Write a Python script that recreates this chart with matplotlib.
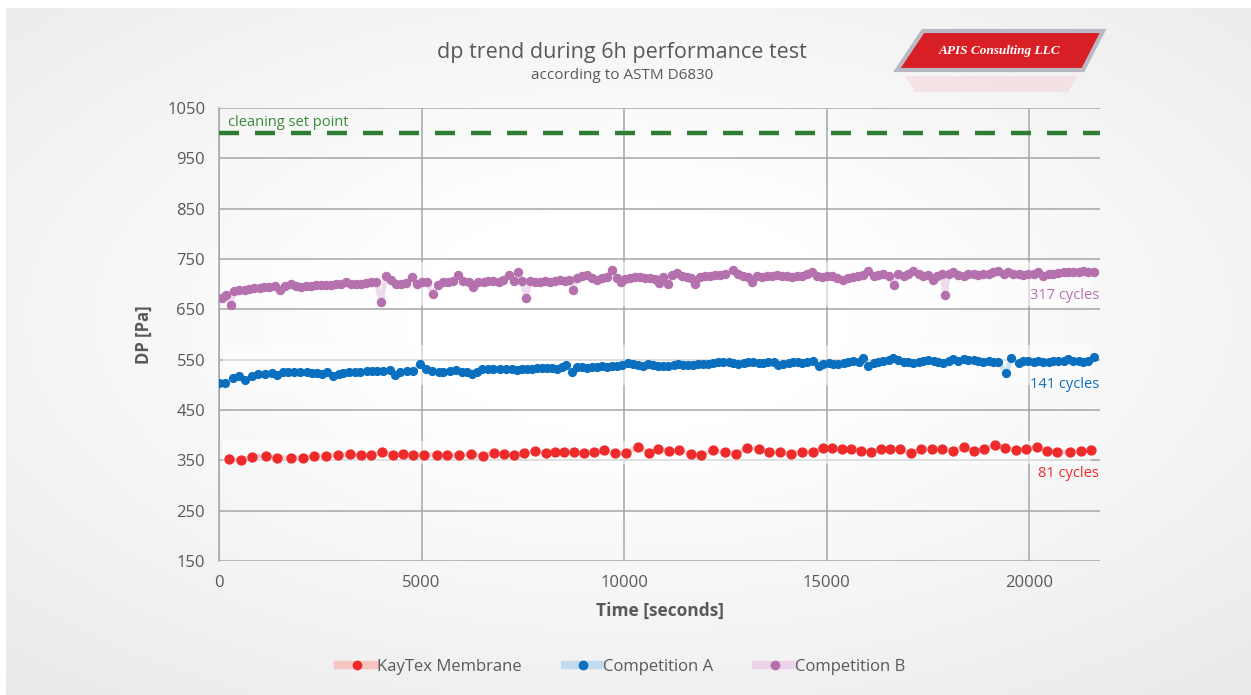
import numpy as np
import matplotlib as mpl
from matplotlib import pyplot as plt
from matplotlib.lines import Line2D
from matplotlib.patches import Polygon

mpl.rcParams['font.family'] = ['Open Sans', 'DejaVu Sans']

# ---- data ----
red_t = [250, 540, 810, 1150, 1440, 1770, 2070, 2350, 2640, 2940,
         3240, 3500, 3750, 4030, 4300, 4540, 4800, 5070, 5370, 5630,
         5930, 6230, 6520, 6780, 7030, 7280, 7530, 7800, 8070, 8300,
         8520, 8770, 9000, 9250, 9510, 9780, 10050, 10350, 10610, 10830,
         11110, 11360, 11640, 11900, 12190, 12480, 12760, 13040, 13320, 13590,
         13850, 14120, 14400, 14660, 14900, 15130, 15380, 15610, 15840, 16100,
         16340, 16570, 16820, 17080, 17340, 17610, 17860, 18120, 18380, 18640,
         18880, 19150, 19410, 19670, 19930, 20190, 20450, 20700, 21010, 21290,
         21520]
red_v = [352, 350, 357, 359, 355, 355, 354, 359, 358, 361,
         362, 360, 361, 366, 360, 362, 361, 361, 361, 360,
         360, 362, 359, 364, 363, 361, 365, 368, 365, 367,
         367, 366, 365, 367, 370, 364, 365, 377, 365, 372,
         369, 370, 363, 361, 370, 367, 363, 375, 373, 367,
         366, 363, 367, 367, 375, 375, 372, 373, 369, 367,
         372, 373, 372, 364, 373, 372, 373, 369, 376, 369,
         372, 381, 375, 371, 372, 377, 369, 367, 366, 369,
         371]

blue_t = [0, 150, 340, 500, 640, 810, 970, 1140, 1300, 1420,
          1570, 1710, 1850, 2000, 2160, 2290, 2410, 2540, 2660, 2810,
          2950, 3070, 3220, 3360, 3480, 3650, 3770, 3890, 4040, 4210,
          4350, 4470, 4630, 4800, 4950, 5110, 5250, 5420, 5540, 5690,
          5850, 5990, 6120, 6240, 6360, 6490, 6650, 6770, 6940, 7090,
          7230, 7350, 7470, 7600, 7720, 7840, 7970, 8090, 8210, 8340,
          8460, 8570, 8710, 8830, 8950, 9080, 9200, 9320, 9450, 9570,
          9700, 9820, 9940, 10090, 10210, 10340, 10460, 10580, 10710, 10830,
          10970, 11090, 11220, 11340, 11460, 11590, 11710, 11830, 11960, 12080,
          12200, 12330, 12450, 12580, 12700, 12820, 12950, 13070, 13190, 13320,
          13440, 13560, 13690, 13810, 13930, 14060, 14180, 14300,
          14390, 14510, 14670, 14800, 14920, 15050, 15170, 15290, 15420, 15540,
          15660, 15790, 15910, 16030, 16160, 16280, 16400, 16530, 16650, 16770,
          16900, 17020, 17140, 17270, 17390, 17510, 17640, 17760, 17880, 18010,
          18130, 18250, 18380, 18500, 18630, 18750, 18870, 19000, 19120, 19240,
          19430, 19560, 19740, 19860, 19980, 20110, 20230, 20350, 20480, 20600,
          20720, 20850, 20970, 21090, 21220, 21340, 21460, 21590]
blue_v = [504, 504, 514, 517, 510, 518, 521, 522, 523, 520,
          525, 526, 525, 525, 525, 524, 524, 522, 525, 518,
          522, 524, 525, 526, 526, 528, 528, 528, 527, 530,
          520, 526, 528, 528, 541, 531, 528, 526, 526, 528,
          529, 526, 525, 521, 525, 531, 531, 531, 531, 531,
          531, 529, 531, 531, 532, 534, 534, 533, 533, 531,
          535, 539, 525, 535, 535, 534, 535, 536, 537, 536,
          537, 538, 539, 544, 541, 539, 538, 541, 539, 538,
          538, 538, 539, 541, 539, 539, 539, 541, 541, 542,
          543, 546, 545, 545, 543, 542, 543, 546, 545, 543,
          543, 545, 546, 539, 542, 543, 546, 545,
          543, 545, 547, 538, 541, 543, 542, 541, 543, 546,
          547, 545, 553, 538, 543, 546, 547, 549, 554, 549,
          545, 546, 543, 546, 547, 549, 547, 546, 543, 547,
          551, 547, 551, 549, 549, 547, 546, 547, 546, 545,
          523, 553, 543, 547, 547, 546, 547, 546, 546, 547,
          547, 547, 551, 547, 547, 546, 547, 556]

purple_t = [70, 160, 300, 370, 500, 630, 750, 870, 1000, 1120,
            1240, 1370, 1510, 1630, 1780, 1900, 2030, 2150, 2270, 2400,
            2520, 2640, 2770, 2890, 3010, 3140, 3260, 3380, 3510, 3630,
            3750, 3880, 4000, 4120, 4250, 4370, 4490, 4620, 4770, 4880,
            5000, 5130, 5280, 5400, 5520, 5650, 5770, 5910, 6030, 6160,
            6280, 6400, 6530, 6650, 6770, 6900, 7020, 7150,
            7270, 7370, 7470, 7580, 7680, 7800, 7930, 8050, 8170, 8300,
            8420, 8540, 8650, 8750, 8830, 8950, 9080, 9200, 9320, 9450,
            9570, 9700, 9820, 9930, 10020, 10150, 10270, 10390, 10520, 10640,
            10770, 10860, 10970, 11080, 11180, 11300, 11420, 11550, 11650, 11750,
            11880, 12000, 12120, 12250, 12370, 12490, 12680, 12810, 12930, 13050,
            13150, 13280, 13400, 13520, 13650, 13770, 13890, 14020, 14140, 14260,
            14390, 14510, 14630, 14760, 14880, 15000, 15130, 15250, 15400, 15520,
            15650, 15770, 15890, 16030, 16160, 16280, 16400, 16530, 16670, 16770,
            16900, 17020, 17140, 17270, 17390, 17510, 17620, 17720, 17840, 17930,
            18010, 18130, 18250, 18380, 18500, 18630, 18750, 18870, 19000, 19120,
            19240, 19370, 19490, 19610, 19740, 19860, 19980, 20110, 20230, 20350,
            20480, 20600, 20720, 20850, 20970, 21090, 21220, 21340, 21460, 21590]
purple_v = [673, 678, 659, 686, 688, 689, 690, 692, 693, 694,
            694, 696, 689, 697, 701, 697, 694, 696, 697, 698,
            698, 698, 698, 700, 701, 705, 701, 700, 701, 702,
            704, 705, 664, 716, 708, 700, 700, 702, 714, 701,
            705, 705, 681, 698, 704, 705, 706, 718, 706, 705,
            694, 704, 705, 706, 706, 705, 708, 718,
            706, 725, 706, 672, 706, 705, 705, 706, 705, 706,
            708, 706, 708, 688, 713, 717, 718, 712, 708, 713,
            714, 728, 712, 704, 710, 713, 714, 714, 713, 712,
            710, 702, 714, 700, 718, 722, 717, 714, 713, 700,
            714, 717, 717, 718, 718, 720, 729, 720, 717, 714,
            705, 717, 714, 716, 717, 718, 717, 717, 714, 717,
            717, 720, 725, 717, 714, 716, 717, 713, 708, 713,
            714, 717, 718, 726, 717, 718, 721, 717, 698, 721,
            717, 720, 726, 720, 717, 718, 708, 717, 720, 678,
            721, 724, 718, 716, 720, 721, 718, 720, 721, 725,
            726, 721, 724, 720, 721, 718, 721, 720, 725, 717,
            721, 720, 722, 724, 724, 724, 725, 726, 725, 724]

series = [
    ('KayTex Membrane', red_t, red_v, '#ee2a2a', '#f7c4c4', 6.4),
    ('Competition A', blue_t, blue_v, '#0b6fbf', '#c2dcee', 5.6),
    ('Competition B', purple_t, purple_v, '#b571ad', '#ecd3ea', 5.8),
]
bands = [(343, 388), (500, 580), (656, 745)]
set_point = 1000

fig = plt.figure(figsize=(12.51, 6.95), dpi=100, facecolor='white')

# soft grey panel behind everything
bg = fig.add_axes([0.005, 0.0, 0.995, 0.988], zorder=-10)
gx, gy = np.meshgrid(np.linspace(-1, 1, 300), np.linspace(-1, 1, 200))
r = np.sqrt((gx * 0.95) ** 2 + ((gy + 0.1) * 1.0) ** 2)
shade = 1.0 - 0.075 * np.clip(r - 0.35, 0, None)
bg.imshow(np.dstack([shade, shade, shade]).clip(0, 1), aspect='auto',
          extent=[0, 1, 0, 1], interpolation='bicubic')
bg.set_axis_off()

ax = fig.add_axes([0.1751, 0.1928, 0.7042, 0.6518])
ax.patch.set_alpha(0)

for lo, hi in bands:
    ax.axhspan(lo, hi, xmin=0.005, xmax=0.99, color='white', alpha=0.55, lw=0, zorder=1)

for label, t, v, c, pale, ms in series:
    ax.plot(t, v, color=pale, lw=3.5, alpha=0.8, zorder=3)
    ax.plot(t, v, linestyle='none', marker='o', ms=ms, color=c, zorder=4)

ax.axhline(set_point, color='#2e7d32', lw=3.2, dashes=(4.5, 3.6), zorder=5)
ax.text(230, set_point + 7, 'cleaning set point', color='#3a8a3a', fontsize=10.5,
        ha='left', va='bottom')

ax.text(21720, 677, '317 cycles', color='#b571ad', fontsize=10.5, ha='right', va='center')
ax.text(21720, 500, '141 cycles', color='#0b6fbf', fontsize=10.5, ha='right', va='center')
ax.text(21720, 323, '81 cycles', color='#ee2a2a', fontsize=10.5, ha='right', va='center')

ax.set_xlim(0, 21750)
ax.set_ylim(150, 1050)
ax.set_xticks(np.arange(0, 20001, 5000))
ax.set_yticks(np.arange(150, 1051, 100))
ax.grid(True, color='#a6a6a6', lw=1.1, zorder=0)
ax.set_axisbelow(True)
for s in ['top', 'right', 'bottom']:
    ax.spines[s].set_visible(False)
ax.spines['left'].set_color('#a6a6a6')
ax.spines['left'].set_linewidth(1.1)
ax.tick_params(axis='both', length=0, labelsize=12, labelcolor='#595959', pad=10)

ax.set_xlabel('Time [seconds]', fontsize=12.5, fontweight='bold', color='#595959', labelpad=8)
ax.set_ylabel('DP [Pa]', fontsize=12, fontweight='bold', color='#595959', labelpad=10)

fig.text(0.497, 0.925, 'dp trend during 6h performance test', ha='center', va='center',
         fontsize=15.5, color='#595959')
fig.text(0.497, 0.891, 'according to ASTM D6830', ha='center', va='center',
         fontsize=11, color='#595959')

# logo
W, H = 1251, 695
logo = [(897, 70), (923, 31), (1103, 31), (1083, 70)]
fig.patches.append(Polygon([(x / W, 1 - y / H) for x, y in logo], closed=True,
                           transform=fig.transFigure, facecolor='#d91f26',
                           edgecolor='#b9b9c4', lw=3, zorder=5))
refl = [(905, 76), (1078, 76), (1068, 92), (915, 92)]
fig.patches.append(Polygon([(x / W, 1 - y / H) for x, y in refl], closed=True,
                           transform=fig.transFigure, facecolor='#f3c9cc',
                           edgecolor='none', alpha=0.4, zorder=4))
fig.text(1000 / W, 1 - 51 / H, 'APIS Consulting LLC', ha='center', va='center',
         fontsize=9.5, color='white', fontstyle='italic', fontweight='bold',
         family='Liberation Serif', zorder=6)

handles = [Line2D([], [], color=pale, lw=6, marker='o', ms=6, mfc=c, mec=c)
           for _, _, _, c, pale, _ in series]
fig.legend(handles, [s[0] for s in series], loc='center', bbox_to_anchor=(0.497, 0.04),
           ncol=3, frameon=False, fontsize=12, handlelength=2.2, handletextpad=0.1,
           columnspacing=2.6, labelcolor='#595959')

plt.savefig('out.png', dpi=100, facecolor='white')
